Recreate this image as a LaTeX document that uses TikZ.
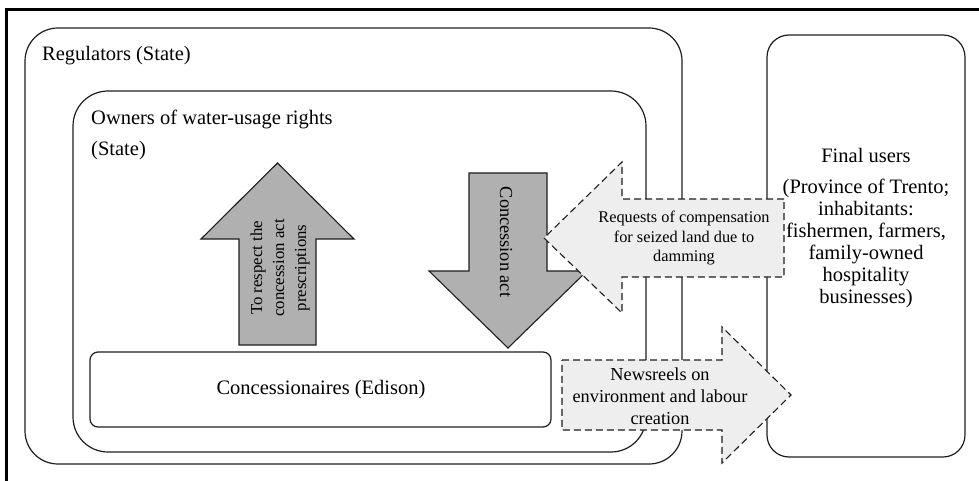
\documentclass[tikz,border=0pt]{standalone}
\usepackage{fontspec}
\setmainfont{Liberation Serif}
\definecolor{linecol}{RGB}{30,30,30}
\definecolor{arrgray}{RGB}{176,176,176}
\definecolor{lightfill}{RGB}{238,238,238}
\begin{document}
\begin{tikzpicture}[x=1pt,y=-1pt,
  frame/.style={draw=black,line width=3pt},
  roundbox/.style={draw=linecol,line width=1.2pt},
  solidarrow/.style={draw=linecol,line width=1.1pt,fill=arrgray,line join=miter},
  dasharrow/.style={draw=linecol,line width=1.1pt,fill=lightfill,dash pattern=on 7pt off 4pt},
  bigtext/.style={inner sep=0pt,font=\fontsize{20.5}{22}\selectfont},
  smalltext/.style={inner sep=0pt,align=center}]
\useasboundingbox (0,0) rectangle (979,481);
% outer frame (clipped at right and bottom)
\draw[frame] (6,485) -- (6,9.5) -- (985,9.5);
% boxes
\draw[roundbox,rounded corners=33pt] (25,28) rectangle (682,464);
\draw[roundbox,rounded corners=35pt] (73,91) rectangle (646,452);
\draw[roundbox,rounded corners=22pt] (767,35) rectangle (965,457);
\draw[roundbox,rounded corners=8pt] (90,352) rectangle (551,427);
% grey arrows
\draw[solidarrow] (239,345) -- (239,239) -- (201,239) -- (277.5,163) -- (354,239) -- (316,239) -- (316,345) -- cycle;
\draw[solidarrow] (469,173) -- (547,173) -- (547,271) -- (587,271) -- (508,348) -- (429,271) -- (469,271) -- cycle;
% dashed arrows
\draw[dasharrow] (784,199) -- (622,199) -- (622,162) -- (544,238) -- (622,313) -- (622,277) -- (784,277) -- cycle;
\draw[dasharrow] (562,360) -- (722,360) -- (722,327) -- (791,395) -- (722,463) -- (722,430) -- (562,430) -- cycle;
% texts
\node[bigtext,anchor=west] (reg) at (42,56) {Regulators (State)};
\node[bigtext,anchor=west,align=left,font=\fontsize{20.5}{31}\selectfont] (own) at (91,135) {Owners of water-usage rights\\(State)};
\node[bigtext] (conc) at (321,390) {Concessionaires (Edison)};
\node[bigtext] (fu) at (866,155) {Final users};
\node[bigtext,align=center] (fud) at (866,243) {(Province of Trento;\\inhabitants:\\fishermen, farmers,\\family-owned\\hospitality\\businesses)};
\node[smalltext,rotate=90,font=\fontsize{16.8}{22}\selectfont] (resp) at (280,268) {To respect the\\concession act\\prescriptions};
\node[smalltext,rotate=-90,font=\fontsize{18.3}{22}\selectfont] (cact) at (506,242) {Concession act};
\node[smalltext,font=\fontsize{16.3}{19.5}\selectfont] (req) at (684,238.5) {Requests of compensation\\for seized land due to\\damming};
\node[smalltext,font=\fontsize{18.3}{22}\selectfont] (news) at (660,396) {Newsreels on\\environment and labour\\creation};
\end{tikzpicture}
\end{document}
